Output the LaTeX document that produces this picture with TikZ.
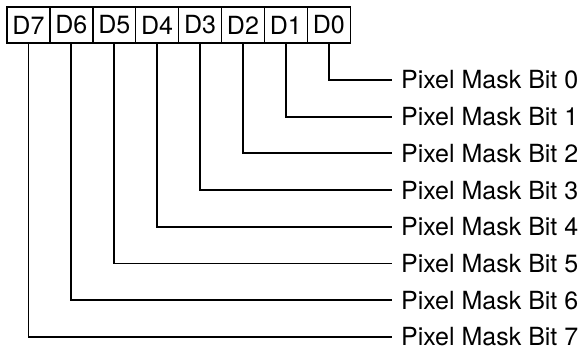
\documentclass[tikz,border=0pt]{standalone}
\usepackage{fontspec}
\setmainfont{TeX Gyre Heros}
\usetikzlibrary{positioning}

\begin{document}
\begin{tikzpicture}[
      x=1pt, y=-1pt,
      bitbox/.style={draw, line width=1.4pt, minimum width=42.9pt,
        minimum height=36pt, inner sep=0pt, outer sep=0pt,
        font=\fontsize{25}{30}\selectfont},
      masklabel/.style={anchor=west, inner xsep=9pt, inner ysep=0pt,
        font=\fontsize{25}{30}\selectfont},
      wire/.style={line width=1.8pt}
    ]
    \useasboundingbox (0,0) rectangle (587,350);

    % Register bits
    \foreach \i in {0,...,7}
      \node[bitbox] (d\i) at ({28.45+42.9*(7-\i)},25) {D\i};

    % Mask labels
    \foreach \i in {0,...,7}
      \node[masklabel] (b\i) at (392,{80+36.7*\i}) {Pixel Mask Bit \i};

    % Wires
    \foreach \i in {0,...,7}
      \draw[wire] (d\i.south) |- (b\i.west);
  \end{tikzpicture}
\end{document}
